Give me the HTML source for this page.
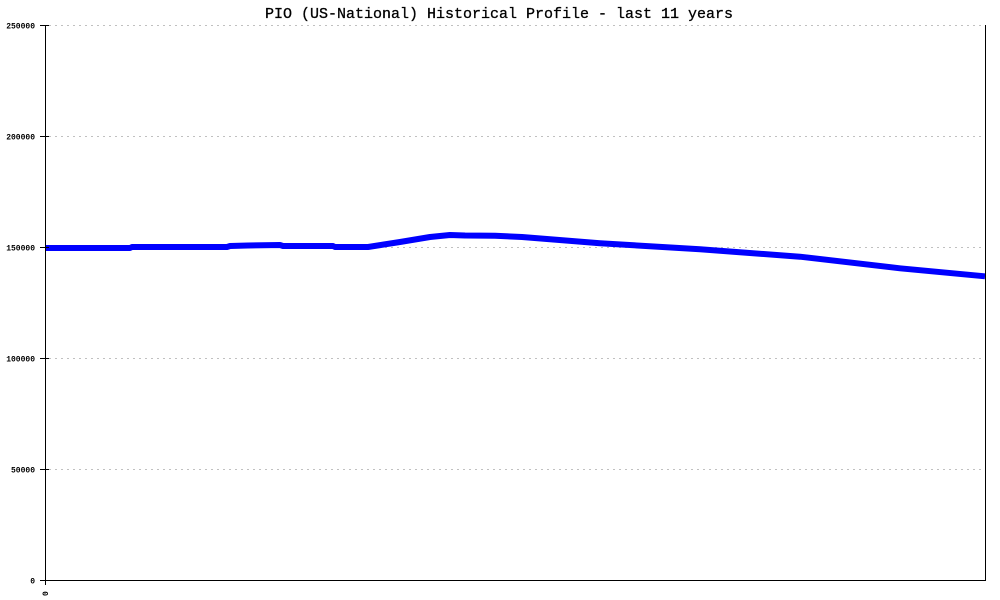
<!DOCTYPE html>
<html><head><meta charset="utf-8"><style>
html,body{margin:0;padding:0;background:#fff;}
svg{display:block;}
text{font-family:"Liberation Mono",monospace;fill:#000;}
</style></head><body>
<svg width="1000" height="600" viewBox="0 0 1000 600" xmlns="http://www.w3.org/2000/svg">
<rect width="1000" height="600" fill="#fff"/>
<g stroke="#c0c0c0" stroke-width="1" stroke-dasharray="2,4" shape-rendering="crispEdges">
<line x1="49" y1="25.5" x2="984" y2="25.5"/>
<line x1="49" y1="136.5" x2="984" y2="136.5"/>
<line x1="49" y1="247.5" x2="984" y2="247.5"/>
<line x1="49" y1="358.5" x2="984" y2="358.5"/>
<line x1="49" y1="469.5" x2="984" y2="469.5"/>
</g>
<polyline fill="none" stroke="#0000ff" stroke-width="6" stroke-linejoin="round" points="45,248 130,248 132,247 227,247 230,246 248,245.5 280,245 283,246 333,246 335,247 368,247 400,242 430,237 450,235 465,235.5 495,235.7 522,237 600,243.3 675,247.7 700,249.3 800,256.7 900,268.3 985,276.3"/>
<g stroke="#000" stroke-width="1" shape-rendering="crispEdges">
<line x1="45.5" y1="25" x2="45.5" y2="585"/>
<line x1="40" y1="580.5" x2="985" y2="580.5"/>
<line x1="985.5" y1="25" x2="985.5" y2="581"/>
<line x1="40" y1="25.5" x2="49" y2="25.5"/>
<line x1="40" y1="136.5" x2="49" y2="136.5"/>
<line x1="40" y1="247.5" x2="49" y2="247.5"/>
<line x1="40" y1="358.5" x2="49" y2="358.5"/>
<line x1="40" y1="469.5" x2="49" y2="469.5"/>
</g>
<g font-size="8" text-anchor="end" font-weight="bold">
<text x="35" y="28.5">250000</text>
<text x="35" y="139.5">200000</text>
<text x="35" y="250.5">150000</text>
<text x="35" y="361.5">100000</text>
<text x="35" y="472.5">50000</text>
<text x="35" y="583.5">0</text>
</g>
<text font-size="8" font-weight="bold" transform="translate(48,596) rotate(-90)">0</text>
<text x="499" y="18" font-size="15" text-anchor="middle" stroke="#000" stroke-width="0.3">PIO (US-National) Historical Profile - last 11 years</text>
</svg>
</body></html>
